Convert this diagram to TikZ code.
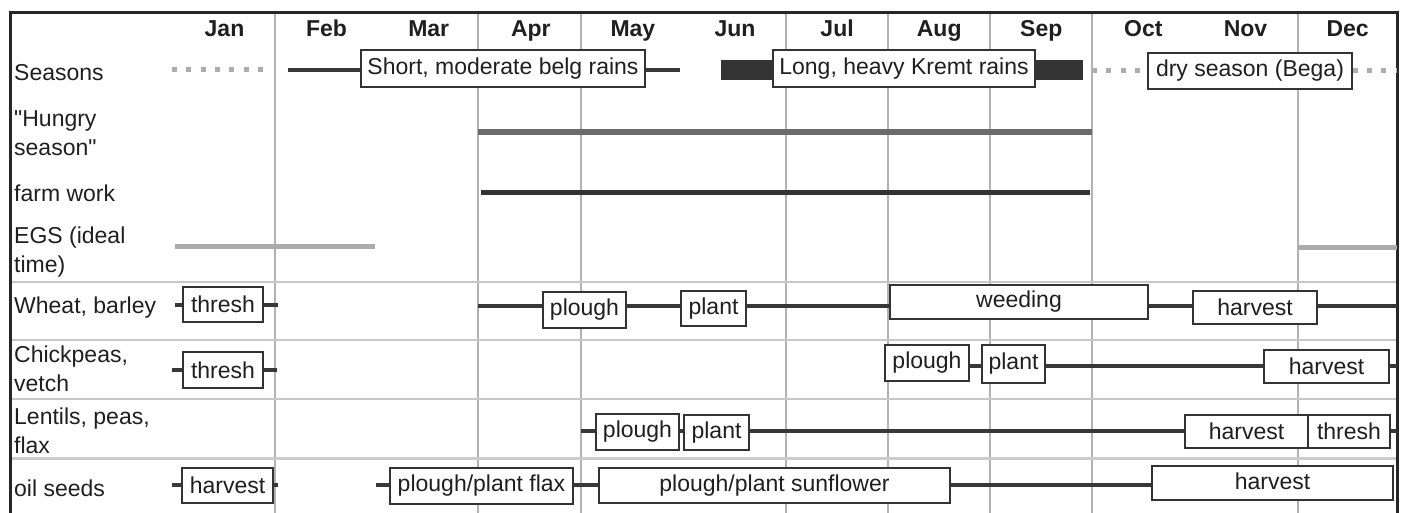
\documentclass[tikz,border=0pt]{standalone}
\usepackage{fontspec}
\setmainfont{Liberation Sans}[Ligatures=TeXOff]
\newcommand\fsz{\fontsize{23}{28.5}\selectfont}
\tikzset{
  every node/.style={text=black!88, font=\fsz},
  box/.style={draw=black!80, line width=1.6pt, fill=white, inner sep=0pt, minimum height=36pt},
  rowline/.style={line width=4pt, draw=black!78},
  gridv/.style={line width=1.1pt, draw=black!30},
  seph/.style={line width=1.3pt, draw=black!22},
  dotsgrey/.style={line width=5pt, draw=black!32, dash pattern=on 5pt off 9.3pt},
  month/.style={font=\fsz\bfseries, anchor=base, inner sep=0pt},
  rowlabel/.style={anchor=west, align=left, inner sep=0pt},
}
\begin{document}
\begin{tikzpicture}[x=1pt,y=-1pt]
\useasboundingbox (0,0) rectangle (1403,513);
% grid
\foreach \gx in {275,478,581,786,888,990,1092,1298}
  \draw[gridv] (\gx,13) -- (\gx,513);
\foreach \gy in {282,340,399}
  \draw[seph] (10,\gy) -- (1397,\gy);
\draw[line width=3.5pt, draw=black!20] (10,458.5) -- (1397,458.5);
% frame
\draw[line width=3pt, draw=black!85] (10,513) -- (10,13) -- (1397,13) -- (1397,513);
% months
\foreach \m [count=\i from 0] in {Jan,Feb,Mar,Apr,May,Jun,Jul,Aug,Sep,Oct,Nov,Dec}
  \node[month] (m\i) at (224.5+102.1*\i,36.5) {\m};
% row labels
\node[rowlabel] (lSeasons) at (14,73) {Seasons};
\node[rowlabel] (lHungry) at (14,133) {"Hungry\\season"};
\node[rowlabel] (lFarm) at (14,193) {farm work};
\node[rowlabel] (lEGS) at (14,252) {EGS (ideal\\time)};
\node[rowlabel] (lWheat) at (14,308) {Wheat, barley};
\node[rowlabel] (lChick) at (14,369) {Chickpeas,\\vetch};
\node[rowlabel] (lLent) at (14,431) {Lentils, peas,\\flax};
\node[rowlabel] (lOil) at (14,488) {oil seeds};
% Seasons
\coordinate (s0) at (172,70);
\coordinate (s1) at (272,70);
\draw[dotsgrey] (s0) -- (s1);
\coordinate (s2) at (288,70);
\coordinate (s3) at (680,70);
\node[box, minimum width=284pt, minimum height=37pt] (belg) at (503,68.5) {Short, moderate belg rains};
\draw[rowline] (s2) -- (belg.west |- s2);
\draw[rowline] (belg.east |- s3) -- (s3);
\coordinate (s4) at (721,70);
\coordinate (s5) at (1083,70);
\node[box, minimum width=262pt, minimum height=37pt] (kremt) at (904,68.5) {Long, heavy Kremt rains};
\draw[line width=20pt, draw=black!80] (s4) -- (kremt.west |- s4);
\draw[line width=20pt, draw=black!80] (kremt.east |- s5) -- (s5);
\coordinate (s6) at (1092,71);
\coordinate (s7) at (1397,71);
\node[box, minimum width=204pt] (bega) at (1250,71) {dry season (Bega)};
\draw[dotsgrey] (s6) -- (bega.west);
\draw[dotsgrey] (bega.east) -- (s7);
% Hungry season
\coordinate (h0) at (478,132);
\coordinate (h1) at (1092,132);
\draw[line width=6.5pt, draw=black!58] (h0) -- (h1);
% farm work
\coordinate (f0) at (481,193);
\coordinate (f1) at (1090,193);
\draw[line width=5pt, draw=black!80] (f0) -- (f1);
% EGS
\coordinate (e0) at (175,247);
\coordinate (e1) at (375,247);
\coordinate (e2) at (1298,248);
\coordinate (e3) at (1397,248);
\draw[line width=5pt, draw=black!33] (e0) -- (e1);
\draw[line width=5pt, draw=black!33] (e2) -- (e3);
% Wheat, barley
\coordinate (w0) at (175,305);
\coordinate (w1) at (278,305);
\coordinate (w2) at (478,306);
\coordinate (w3) at (1397,306);
\node[box, minimum width=80pt, minimum height=35pt] (wthresh) at (223,304.5) {thresh};
\node[box, minimum width=83pt] (wplough) at (584.5,310) {plough};
\node[box, minimum width=65pt, minimum height=35pt] (wplant) at (713.5,308.5) {plant};
\node[box, minimum width=258pt, minimum height=34pt] (wweed) at (1019,302) {weeding};
\node[box, minimum width=124pt, minimum height=33pt] (wharv) at (1255,307.5) {harvest};
\draw[rowline] (w0) -- (wthresh.west |- w0);
\draw[rowline] (wthresh.east |- w1) -- (w1);
\draw[rowline] (w2) -- (wplough.west |- w2);
\draw[rowline] (wplough.east |- w2) -- (wplant.west |- w2);
\draw[rowline] (wplant.east |- w2) -- (wweed.west |- w2);
\draw[rowline] (wweed.east |- w2) -- (wharv.west |- w2);
\draw[rowline] (wharv.east |- w3) -- (w3);
% Chickpeas, vetch
\coordinate (c0) at (172,370);
\coordinate (c1) at (277,370);
\coordinate (c2) at (1397,366);
\node[box, minimum width=80pt] (cthresh) at (223,370) {thresh};
\node[box, minimum width=84pt] (cplough) at (927,363) {plough};
\node[box, minimum width=63pt, minimum height=38pt] (cplant) at (1013.5,364) {plant};
\node[box, minimum width=125pt, minimum height=33pt] (charv) at (1326.5,366.5) {harvest};
\draw[rowline] (c0) -- (cthresh.west |- c0);
\draw[rowline] (cthresh.east |- c1) -- (c1);
\draw[rowline] (cplough.east |- c2) -- (cplant.west |- c2);
\draw[rowline] (cplant.east |- c2) -- (charv.west |- c2);
\draw[rowline] (charv.east |- c2) -- (c2);
% Lentils, peas, flax
\coordinate (l0) at (581,431);
\coordinate (l1) at (1397,431);
\node[box, minimum width=83pt] (lplough) at (637.5,432) {plough};
\node[box, minimum width=65pt, minimum height=35pt] (lplant) at (716.5,432.5) {plant};
\node[box, minimum width=123pt, minimum height=33pt] (lharv) at (1246.5,431.5) {harvest};
\node[box, minimum width=82pt, minimum height=33pt] (lthresh) at (1349,431.5) {thresh};
\draw[rowline] (l0) -- (lplough.west |- l0);
\draw[rowline] (lplough.east |- l0) -- (lplant.west |- l0);
\draw[rowline] (lplant.east |- l0) -- (lharv.west |- l0);
\draw[rowline] (lthresh.east |- l1) -- (l1);
% oil seeds
\coordinate (o0) at (172,485);
\coordinate (o1) at (278,485);
\coordinate (o2) at (376,485);
\node[box, minimum width=91pt, minimum height=35pt] (oharv1) at (227.5,485.5) {harvest};
\node[box, minimum width=183pt] (oflax) at (481.5,486) {plough/plant flax};
\node[box, minimum width=351pt, minimum height=35pt] (osun) at (774.5,485.5) {plough/plant sunflower};
\node[box, minimum width=241pt, minimum height=34pt] (oharv2) at (1272.5,483) {\raisebox{3pt}{harvest}};
\draw[rowline] (o0) -- (oharv1.west |- o0);
\draw[rowline] (oharv1.east |- o1) -- (o1);
\draw[rowline] (o2) -- (oflax.west |- o2);
\draw[rowline] (oflax.east |- o2) -- (osun.west |- o2);
\draw[rowline] (osun.east |- o2) -- (oharv2.west |- o2);
\end{tikzpicture}
\end{document}
